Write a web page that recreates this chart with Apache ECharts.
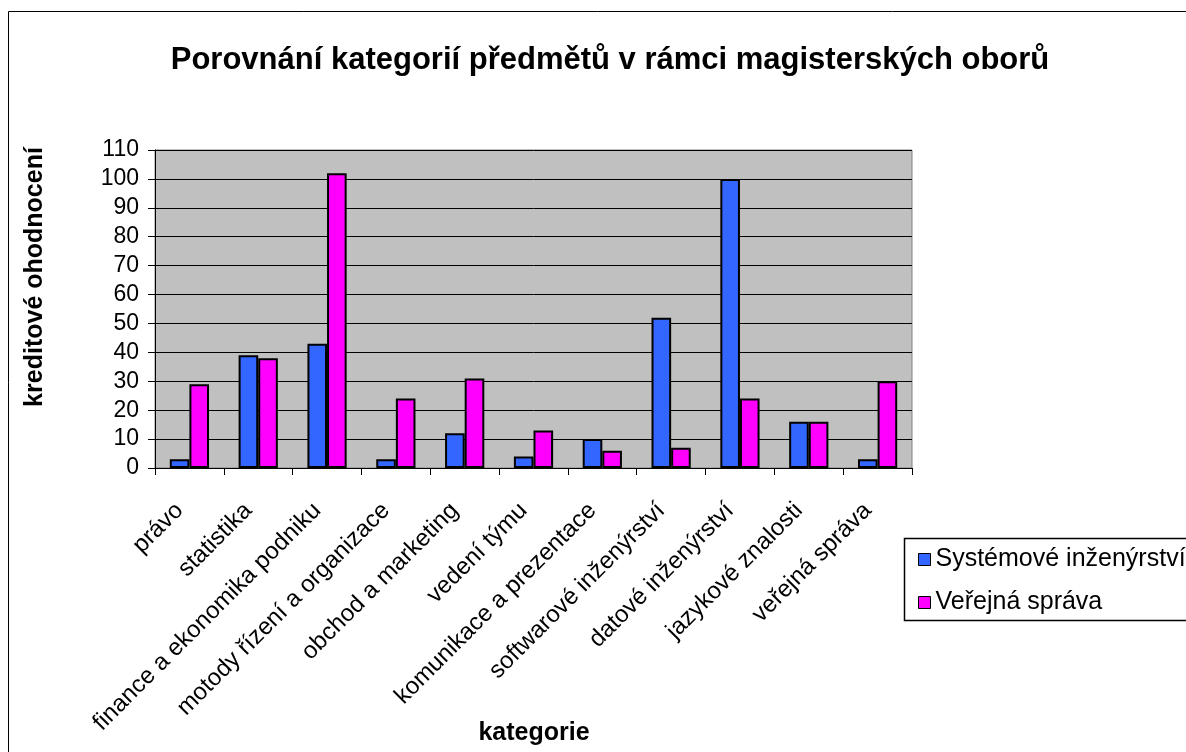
<!DOCTYPE html>
<html>
<head>
<meta charset="utf-8">
<script src="https://cdn.jsdelivr.net/npm/echarts@6/dist/echarts.min.js"></script>
<style>
  html, body { margin: 0; padding: 0; background: #fff; }
  #chart { width: 1186px; height: 752px; }
</style>
</head>
<body>
<div id="chart"></div>
<script>
const categories = [
    'právo', 'statistika', 'finance a ekonomika podniku', 'motody řízení a organizace',
    'obchod a marketing', 'vedení týmu', 'komunikace a prezentace',
    'softwarové inženýrství', 'datové inženýrství', 'jazykové znalosti', 'veřejná správa'
];
const systemoveInzenyrstvi = [3, 39, 43, 3, 12, 4, 10, 52, 100, 16, 3];
const verejnaSprava = [29, 38, 102, 24, 31, 13, 6, 7, 24, 16, 30];
const yTicks = { min: 0, max: 110, interval: 10 };

const font = 'Liberation Sans, Arial, sans-serif';

const chart = echarts.init(document.getElementById('chart'));

const barStyle = color => ({
    color: color,
    borderColor: '#000',
    borderWidth: 2
});

// axis titles sit where Excel put them, not centred on the plot
const axisTitle = (text, x, y, rotation) => ({
    type: 'text',
    x: x,
    y: y,
    rotation: rotation,
    style: {
        text: text,
        font: 'bold 25px ' + font,
        fill: '#000',
        align: 'center',
        verticalAlign: 'middle'
    },
    silent: true
});

chart.setOption({
    animation: false,
    textStyle: { fontFamily: font, color: '#000' },
    title: {
        text: 'Porovnání kategorií předmětů v rámci magisterských oborů',
        left: 605,
        textAlign: 'center',
        top: 40,
        textStyle: { fontSize: 31, fontWeight: 'bold', color: '#000', fontFamily: font }
    },
    legend: {
        orient: 'vertical',
        left: 913,
        top: 542,
        itemWidth: 12,
        itemHeight: 12,
        itemGap: 18,
        icon: 'rect',
        itemStyle: { borderColor: '#000', borderWidth: 1 },
        textStyle: { fontSize: 25, color: '#000', fontFamily: font },
        data: ['Systémové inženýrství', 'Veřejná správa']
    },
    grid: {
        left: 155,
        top: 150,
        right: 274,
        bottom: 284,
        outerBoundsMode: 'none',
        show: true,
        backgroundColor: '#C0C0C0',
        borderColor: '#808080',
        borderWidth: 1
    },
    xAxis: {
        type: 'category',
        data: categories,
        axisLine: { lineStyle: { color: '#000', width: 1 } },
        axisTick: { show: true, length: 7, lineStyle: { color: '#000' } },
        axisLabel: {
            rotate: 45, fontSize: 24, color: '#000', margin: 29, interval: 0,
            padding: [0, 14, 0, 0]
        }
    },
    yAxis: {
        type: 'value',
        min: yTicks.min,
        max: yTicks.max,
        interval: yTicks.interval,
        axisLine: { show: true, lineStyle: { color: '#000', width: 1 } },
        axisTick: { show: true, length: 7, lineStyle: { color: '#000' } },
        axisLabel: { fontSize: 23, color: '#000', margin: 16 },
        splitLine: { show: true, lineStyle: { color: '#000', width: 1 } }
    },
    series: [
        {
            name: 'Systémové inženýrství',
            type: 'bar',
            data: systemoveInzenyrstvi,
            barGap: '0%',
            barCategoryGap: '43%',
            itemStyle: barStyle('#3366FF')
        },
        {
            name: 'Veřejná správa',
            type: 'bar',
            data: verejnaSprava,
            barGap: '0%',
            barCategoryGap: '43%',
            itemStyle: barStyle('#FF00FF')
        }
    ],
    graphic: [
        {
            type: 'rect',
            shape: { x: 8.5, y: 11.5, width: 1300, height: 900 },
            style: { fill: null, stroke: '#000', lineWidth: 1 },
            silent: true
        },
        {
            type: 'rect',
            shape: { x: 904.5, y: 538.5, width: 400, height: 82 },
            style: { fill: '#fff', stroke: '#000', lineWidth: 1.5 },
            z: -1,
            silent: true
        },
        axisTitle('kreditové ohodnocení', 35, 277, Math.PI / 2),
        axisTitle('kategorie', 534, 733, 0)
    ]
});
</script>
</body>
</html>
